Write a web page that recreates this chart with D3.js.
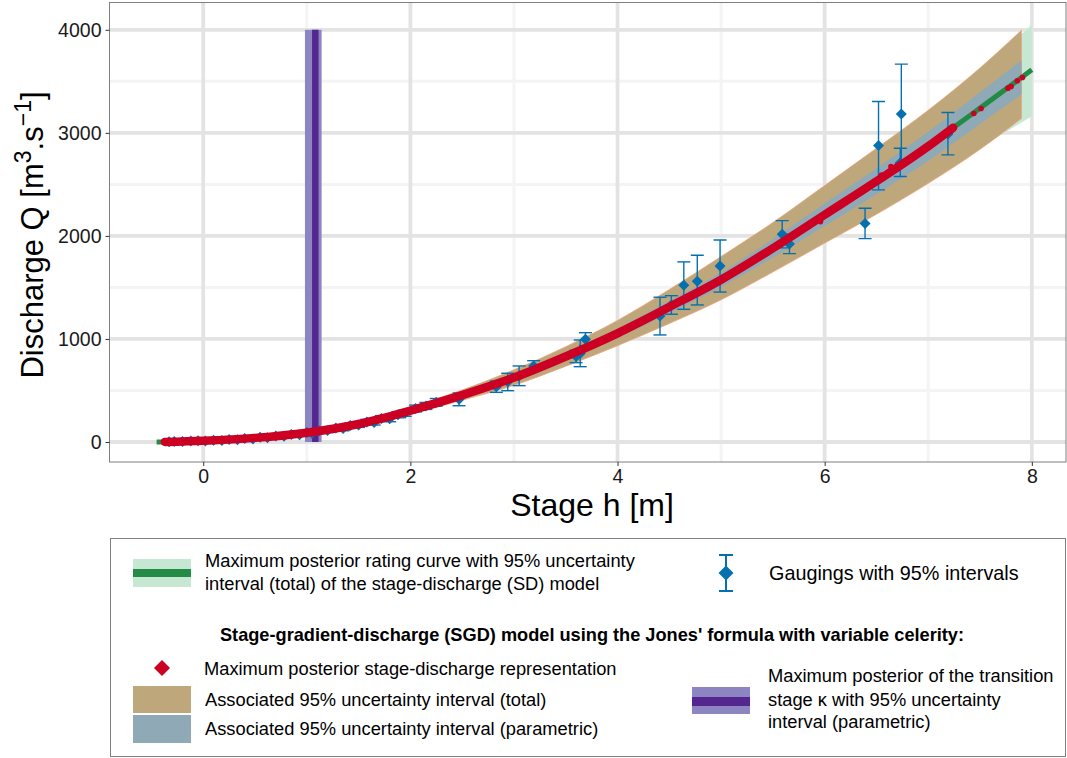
<!DOCTYPE html>
<html><head><meta charset="utf-8">
<script src="https://cdn.jsdelivr.net/npm/d3@7"></script>
<style>
body{margin:0;background:#fff;}
svg{display:block;font-family:"Liberation Sans",Arial,Helvetica,sans-serif;}
</style>
</head><body>
<svg id="c" width="1067" height="758"></svg>
<script>
// ---------------- DATA ----------------
const xMajorTicks = [0, 2, 4, 6, 8];
const xMinorTicks = [1, 3, 5, 7];
const yMajorTicks = [0, 1000, 2000, 3000, 4000];
const yMinorTicks = [500, 1500, 2500, 3500];

// SGD maximum posterior stage-discharge representation (red)
const sgdH = [-0.37, 0, 0.5, 1.0, 1.5, 2.0, 2.5, 3.0, 3.5, 4.0, 4.5, 5.0, 5.5, 6.0, 6.5, 7.0, 7.24];
const sgdQ = [0, 12, 40, 90, 175, 305, 455, 625, 830, 1055, 1310, 1575, 1880, 2205, 2530, 2870, 3050];
// isolated red points
const sgdDotH = [5.96, 6.55, 6.64, 7.44, 7.51, 7.77, 7.80, 7.86, 7.91];
const sgdDotQ = [2139, 2590, 2673, 3188, 3236, 3434, 3450, 3505, 3537];

// SD maximum posterior rating curve (green)
const sdH = [-0.45, -0.37, 0, 0.5, 1.0, 1.5, 2.0, 2.5, 3.0, 3.5, 4.0, 4.5, 5.0, 5.5, 6.0, 6.5, 7.0, 7.24, 7.5, 8.0];
const sdQ = [0, 0, 12, 40, 90, 175, 305, 455, 625, 830, 1055, 1310, 1575, 1880, 2205, 2530, 2870, 3050, 3240, 3612];
// SD total 95% interval (light green)
const sdBandH = [-0.45, 0, 0.5, 1.0, 1.5, 2.0, 2.5, 3.0, 3.5, 4.0, 4.5, 5.0, 5.5, 6.0, 6.5, 7.0, 7.5, 8.0];
const sdLow  = [-5, 2, 27, 74, 152, 272, 410, 558, 742, 945, 1165, 1395, 1665, 1945, 2225, 2525, 2855, 3160];
const sdHigh = [5, 23, 53, 106, 198, 338, 500, 692, 918, 1165, 1455, 1755, 2095, 2465, 2830, 3195, 3605, 4050];

// SGD bands
const bandH    = [-0.37, 0, 0.5, 1.0, 1.5, 2.0, 2.5, 3.0, 3.5, 4.0, 4.5, 5.0, 5.5, 6.0, 6.5, 7.0, 7.5, 7.9];
const totLow   = [-3, 3, 28, 75, 150, 270, 405, 550, 735, 935, 1150, 1380, 1650, 1930, 2210, 2510, 2840, 3140];
const totHigh  = [3, 22, 52, 105, 200, 340, 505, 700, 925, 1180, 1480, 1800, 2130, 2490, 2850, 3220, 3630, 3995];
const parLow   = [-1, 8, 32, 80, 162, 290, 435, 600, 800, 1010, 1250, 1505, 1790, 2095, 2405, 2730, 3085, 3375];
const parHigh  = [1, 16, 48, 100, 188, 320, 475, 650, 860, 1100, 1370, 1645, 1970, 2315, 2655, 3010, 3395, 3705];

// transition stage kappa
const kappaMAP = 1.082;
const kappaLow = 0.982;
const kappaHigh = 1.143;
const kappaQRange = [0, 4000];

// Gaugings with 95% intervals
const gaugH  = [-0.33,-0.28,-0.20,-0.12,-0.05,0.02,0.10,0.18,0.25,0.33,0.40,0.48,0.55,0.62,0.70,0.78,0.85,0.93,1.00,1.05,1.12,1.20,1.28,1.35,1.42,1.50,1.58,1.65,1.72,1.80,1.88,1.95,2.05,2.15,2.25,
                2.47, 2.83, 2.94, 3.05, 3.19, 3.60, 3.64, 3.69, 4.41, 4.52, 4.64, 4.77, 4.99, 5.59, 5.66, 6.39, 6.52, 6.74, 6.73, 7.19];
const gaugQ  = [3, 6, 4, 9, 12, 10, 17, 15, 24, 22, 33, 30, 45, 42, 58, 55, 72, 70, 92, 85, 110, 112, 135, 130, 160, 165, 195, 190, 228, 225, 265, 280, 325, 350, 385,
                414, 537, 585, 641, 738, 830, 860, 997, 1223, 1330, 1520, 1560, 1709, 2016, 1922, 2120, 2877, 3184, 2709, 2990];
const gaugLo = [-5, -2, -4, 1, 4, 2, 8, 6, 14, 12, 22, 19, 33, 30, 44, 41, 57, 55, 75, 68, 91, 93, 114, 109, 137, 142, 170, 165, 200, 197, 235, 250, 292, 316, 348,
                352, 482, 498, 547, 687, 770, 731, 935, 1039, 1240, 1288, 1330, 1455, 1884, 1828, 1974, 2447, 2700, 2576, 2786];
const gaugHi = [11, 14, 12, 17, 20, 18, 26, 24, 34, 32, 44, 41, 57, 54, 72, 69, 87, 85, 109, 102, 129, 131, 156, 151, 183, 188, 220, 215, 256, 253, 295, 310, 358, 384, 422,
                476, 592, 667, 738, 789, 890, 990, 1061, 1405, 1420, 1748, 1812, 1961, 2148, 2016, 2269, 3304, 3667, 2851, 3197];

// ---------------- COLOURS ----------------
const C = {
  gridMajor: "#E3E3E3", gridMinor: "#F4F4F4", border: "#7F7F7F",
  sdBand: "#C6E8D3", sdLine: "#238B45",
  tot: "#BDA77B", totEdge: "#EFA47E", par: "#8FA9B6",
  red: "#CC0022", blue: "#0570B0",
  kLight: "#8D85C2", kDark: "#54278F", text: "#1A1A1A"
};

// ---------------- CHART ----------------
const svg = d3.select("#c");
const P = {l: 109.5, t: 2.5, r: 1066, b: 462};
const x = d3.scaleLinear().domain([-0.905, 8.33]).range([P.l, P.r]);
const y = d3.scaleLinear().domain([-194, 4265]).range([P.b, P.t]);

svg.append("defs").append("clipPath").attr("id", "clip")
  .append("rect").attr("x", P.l).attr("y", P.t).attr("width", P.r - P.l).attr("height", P.b - P.t);

const plot = svg.append("g").attr("clip-path", "url(#clip)");

// grid
plot.selectAll(".gxm").data(xMinorTicks).enter().append("line")
  .attr("x1", d => x(d)).attr("x2", d => x(d)).attr("y1", P.t).attr("y2", P.b)
  .attr("stroke", C.gridMinor).attr("stroke-width", 3);
plot.selectAll(".gym").data(yMinorTicks).enter().append("line")
  .attr("y1", d => y(d)).attr("y2", d => y(d)).attr("x1", P.l).attr("x2", P.r)
  .attr("stroke", C.gridMinor).attr("stroke-width", 3);
plot.selectAll(".gxM").data(xMajorTicks).enter().append("line")
  .attr("x1", d => x(d)).attr("x2", d => x(d)).attr("y1", P.t).attr("y2", P.b)
  .attr("stroke", C.gridMajor).attr("stroke-width", 3.8);
plot.selectAll(".gyM").data(yMajorTicks).enter().append("line")
  .attr("y1", d => y(d)).attr("y2", d => y(d)).attr("x1", P.l).attr("x2", P.r)
  .attr("stroke", C.gridMajor).attr("stroke-width", 3.8);

const area = d3.area().x(d => x(d.h)).y0(d => y(d.lo)).y1(d => y(d.hi)).curve(d3.curveMonotoneX);
const line = d3.line().x(d => x(d.h)).y(d => y(d.q)).curve(d3.curveMonotoneX);

const sdBand = sdBandH.map((h, i) => ({h, lo: sdLow[i], hi: sdHigh[i]}));
const totBand = bandH.map((h, i) => ({h, lo: totLow[i], hi: totHigh[i]}));
const parBand = bandH.map((h, i) => ({h, lo: parLow[i], hi: parHigh[i]}));
const sdCurve = sdH.map((h, i) => ({h, q: sdQ[i]}));
const sgdCurve = sgdH.map((h, i) => ({h, q: sgdQ[i]}));

plot.append("path").datum(sdBand).attr("d", area).attr("fill", C.sdBand);
plot.append("path").datum(totBand).attr("d", area).attr("fill", C.tot)
  .attr("stroke", C.totEdge).attr("stroke-width", 0.8);
plot.append("path").datum(parBand).attr("d", area).attr("fill", C.par);

// kappa
plot.append("rect").attr("x", x(kappaLow)).attr("width", x(kappaHigh) - x(kappaLow))
  .attr("y", y(kappaQRange[1])).attr("height", y(kappaQRange[0]) - y(kappaQRange[1]))
  .attr("fill", C.kLight);
plot.append("line").attr("x1", x(kappaMAP)).attr("x2", x(kappaMAP))
  .attr("y1", y(kappaQRange[1])).attr("y2", y(kappaQRange[0]))
  .attr("stroke", C.kDark).attr("stroke-width", 6.5);

// SD line
plot.append("path").datum(sdCurve).attr("d", line).attr("fill", "none")
  .attr("stroke", C.sdLine).attr("stroke-width", 5);

// gaugings
const gaug = gaugH.map((h, i) => ({h, q: gaugQ[i], lo: gaugLo[i], hi: gaugHi[i]}));
const gg = plot.append("g");
const cap = 6.5;
gaug.forEach(d => {
  const g = gg.append("g").attr("stroke", C.blue).attr("stroke-width", 1.4);
  g.append("line").attr("x1", x(d.h)).attr("x2", x(d.h)).attr("y1", y(d.lo)).attr("y2", y(d.hi));
  g.append("line").attr("x1", x(d.h) - cap).attr("x2", x(d.h) + cap).attr("y1", y(d.lo)).attr("y2", y(d.lo));
  g.append("line").attr("x1", x(d.h) - cap).attr("x2", x(d.h) + cap).attr("y1", y(d.hi)).attr("y2", y(d.hi));
});
const dia = r => `M0,${-r}L${r},0L0,${r}L${-r},0Z`;
gg.selectAll(".gd").data(gaug).enter().append("path")
  .attr("d", dia(5.5)).attr("transform", d => `translate(${x(d.h)},${y(d.q)})`).attr("fill", C.blue);

// SGD red
plot.append("path").datum(sgdCurve).attr("d", line).attr("fill", "none")
  .attr("stroke", C.red).attr("stroke-width", 8.5).attr("stroke-linecap", "round");
plot.selectAll(".rd").data(sgdDotH.map((h, i) => ({h, q: sgdDotQ[i]}))).enter().append("circle")
  .attr("cx", d => x(d.h)).attr("cy", d => y(d.q)).attr("r", 2.8).attr("fill", C.red);

// panel border
svg.append("rect").attr("x", P.l).attr("y", P.t).attr("width", P.r - P.l).attr("height", P.b - P.t)
  .attr("fill", "none").attr("stroke", C.border).attr("stroke-width", 1);

// axes
const xAxis = svg.append("g").attr("transform", `translate(0,${P.b})`)
  .call(d3.axisBottom(x).tickValues(xMajorTicks).tickSize(4).tickPadding(3).tickFormat(d3.format("d")));
const yAxis = svg.append("g").attr("transform", `translate(${P.l},0)`)
  .call(d3.axisLeft(y).tickValues(yMajorTicks).tickSize(4).tickPadding(4).tickFormat(d3.format("d")));
[xAxis, yAxis].forEach(a => {
  a.select(".domain").remove();
  a.selectAll(".tick line").attr("stroke", "#333").attr("stroke-width", 1);
  a.selectAll(".tick text").attr("fill", C.text).style("font-size", "19.5px")
    .style("font-family", '"Liberation Sans",Arial,sans-serif');
});

// axis titles
svg.append("text").attr("x", 592).attr("y", 516).attr("text-anchor", "middle")
  .style("font-size", "32px").attr("fill", "#000").text("Stage h [m]");
const yt = svg.append("text").attr("transform", "translate(43,235) rotate(-90)")
  .attr("text-anchor", "middle").style("font-size", "31px").attr("fill", "#000");
yt.append("tspan").text("Discharge Q [m");
yt.append("tspan").attr("dy", -12).style("font-size", "23px").text("3");
yt.append("tspan").attr("dy", 12).text(".s");
yt.append("tspan").attr("dy", -12).style("font-size", "23px").text("\u22121");
yt.append("tspan").attr("dy", 12).text("]");

// ---------------- LEGEND ----------------
const L = svg.append("g");
L.append("rect").attr("x", 110.5).attr("y", 538.5).attr("width", 955).attr("height", 218)
  .attr("fill", "#fff").attr("stroke", C.border).attr("stroke-width", 1);
const txt = (xx, yy, s, size) => L.append("text").attr("x", xx).attr("y", yy)
  .style("font-size", size || "18.3px").attr("fill", "#000").text(s);

// SD key
L.append("rect").attr("x", 133).attr("y", 559).attr("width", 58).attr("height", 28).attr("fill", C.sdBand);
L.append("rect").attr("x", 133).attr("y", 569).attr("width", 58).attr("height", 8).attr("fill", C.sdLine);
txt(205, 567, "Maximum posterior rating curve with 95% uncertainty");
txt(205, 590, "interval (total) of the stage-discharge (SD) model");

// gauging key
L.append("line").attr("x1", 726).attr("x2", 726).attr("y1", 555).attr("y2", 591).attr("stroke", C.blue).attr("stroke-width", 2);
L.append("line").attr("x1", 719).attr("x2", 733).attr("y1", 555).attr("y2", 555).attr("stroke", C.blue).attr("stroke-width", 2);
L.append("line").attr("x1", 719).attr("x2", 733).attr("y1", 591).attr("y2", 591).attr("stroke", C.blue).attr("stroke-width", 2);
L.append("path").attr("d", dia(7.5)).attr("transform", "translate(726,573)").attr("fill", C.blue);
txt(769, 580, "Gaugings with 95% intervals", "19.8px");

// SGD title
L.append("text").attr("x", 592).attr("y", 641).attr("text-anchor", "middle")
  .style("font-size", "18.2px").style("font-weight", "bold").attr("fill", "#000")
  .text("Stage-gradient-discharge (SGD) model using the Jones' formula with variable celerity:");

// red key
L.append("path").attr("d", dia(8)).attr("transform", "translate(162,668)").attr("fill", C.red);
txt(204, 675, "Maximum posterior stage-discharge representation");
// total
L.append("rect").attr("x", 133).attr("y", 686).attr("width", 58).attr("height", 27).attr("fill", C.tot);
txt(205, 706, "Associated 95% uncertainty interval (total)");
// parametric
L.append("rect").attr("x", 133).attr("y", 715).attr("width", 58).attr("height", 28).attr("fill", C.par);
txt(205, 735, "Associated 95% uncertainty interval (parametric)");

// kappa key
L.append("rect").attr("x", 692).attr("y", 687).attr("width", 58).attr("height", 27).attr("fill", C.kLight);
L.append("rect").attr("x", 692).attr("y", 697).attr("width", 58).attr("height", 9).attr("fill", C.kDark);
txt(768, 682, "Maximum posterior of the transition");
txt(768, 706, "stage \u03BA with 95% uncertainty");
txt(768, 728, "interval (parametric)");
</script>
</body></html>
